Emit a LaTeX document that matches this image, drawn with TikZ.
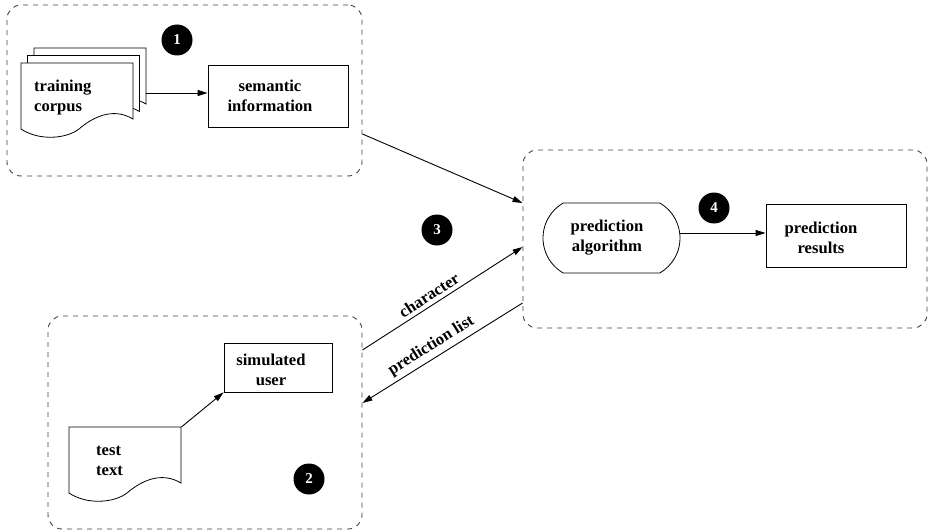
\documentclass[tikz,border=0pt]{standalone}
\usepackage{fontspec}
\setmainfont{Liberation Serif}
\usetikzlibrary{arrows.meta,shapes.misc}
\tikzset{
  group/.style={draw=black!75, line width=0.9pt, dash pattern=on 5pt off 5pt, rounded corners=14pt, inner sep=0pt},
  boxnode/.style={draw, line width=0.8pt, inner sep=0pt},
  lbl/.style={font=\fontsize{16.6}{20}\selectfont\bfseries, align=left, inner sep=0pt},
  num/.style={circle, fill=black, text=white, minimum size=31pt, inner sep=0pt, font=\fontsize{15}{15}\selectfont\bfseries},
  arr/.style={line width=0.9pt, -{Triangle[length=10pt,width=6pt]}},
  backarr/.style={line width=0.9pt, {Triangle[length=10pt,width=6pt]}-},
  docshape/.style={draw, line width=0.8pt, fill=white}
}
\newcommand{\docpath}[2]{%
  \path[docshape] (#1,#2) -- ++(112,0) -- ++(0,56)
    .. controls +(-20,-12) and +(14,-12) .. ++(-54,10)
    .. controls +(-13,10) and +(18,12) .. ++(-58,0) -- cycle;}
\begin{document}
\begin{tikzpicture}[x=1pt,y=-1pt]
\useasboundingbox (0,0) rectangle (929,532);
% groups
\node[group, minimum width=355, minimum height=171] (g1) at (184.5,90.5) {};
\node[group, minimum width=314, minimum height=213] (g2) at (205,422.5) {};
\node[group, minimum width=404, minimum height=178] (g3) at (725,239) {};
% group 1: training corpus
\docpath{34}{48}
\docpath{27.5}{55.5}
\docpath{21}{63}
\node[inner sep=0pt, anchor=north west, minimum width=125, minimum height=80] (corpus) at (21,48) {};
\node[lbl, anchor=west] (corpustxt) at (34,98) {training\\corpus};
\node[boxnode, minimum width=140, minimum height=62] (sem) at (278,96) {};
\node[lbl, align=center] (semtxt) at (270,96) {semantic\\information};
\coordinate (semin) at ([yshift=3pt]sem.west);
\draw[arr] (corpus.east |- semin) -- (semin);
\node[num] (n1) at (177,40) {1};
% group 2
\docpath{69}{427}
\node[inner sep=0pt, anchor=north west, minimum width=112, minimum height=66] (test) at (69,427) {};
\node[lbl, anchor=west] (testtxt) at (96,461) {test\\text};
\node[boxnode, minimum width=108, minimum height=49] (sim) at (278,367.5) {};
\node[lbl, align=center] (simtxt) at (271,370) {simulated\\user};
\draw[arr] (test.north east) -- (sim.south west);
\node[num] (n2) at (309,479) {2};
% group 3
\node[draw, line width=0.8pt, rounded rectangle, rounded rectangle arc length=120, minimum width=137, minimum height=70, inner sep=0pt] (alg) at (611.5,238) {};
\node[lbl, align=center] (algtxt) at (607,238) {prediction\\algorithm};
\node[boxnode, minimum width=140, minimum height=63] (res) at (836,235.5) {};
\node[lbl, align=center] (restxt) at (821,238) {prediction\\results};
\coordinate (algout) at ([yshift=5pt]alg.east);
\draw[arr] (algout) -- (algout -| res.west);
\node[num] (n4) at (714,208) {4};
% connectors between groups
\draw[arr] ([yshift=-43.5pt]g1.east) -- ([yshift=36pt]g3.west);
\draw[arr] ([yshift=72.5pt]g2.east) -- node[lbl, pos=0.45, sloped, above=4pt] (chr) {character} ([yshift=-8pt]g3.west);
\draw[backarr] ([yshift=19.5pt]g2.east) -- node[lbl, pos=0.47, sloped, above=4pt] (pl) {prediction list} ([yshift=-64pt]g3.west);
\node[num] (n3) at (437,230) {3};
\end{tikzpicture}
\end{document}
